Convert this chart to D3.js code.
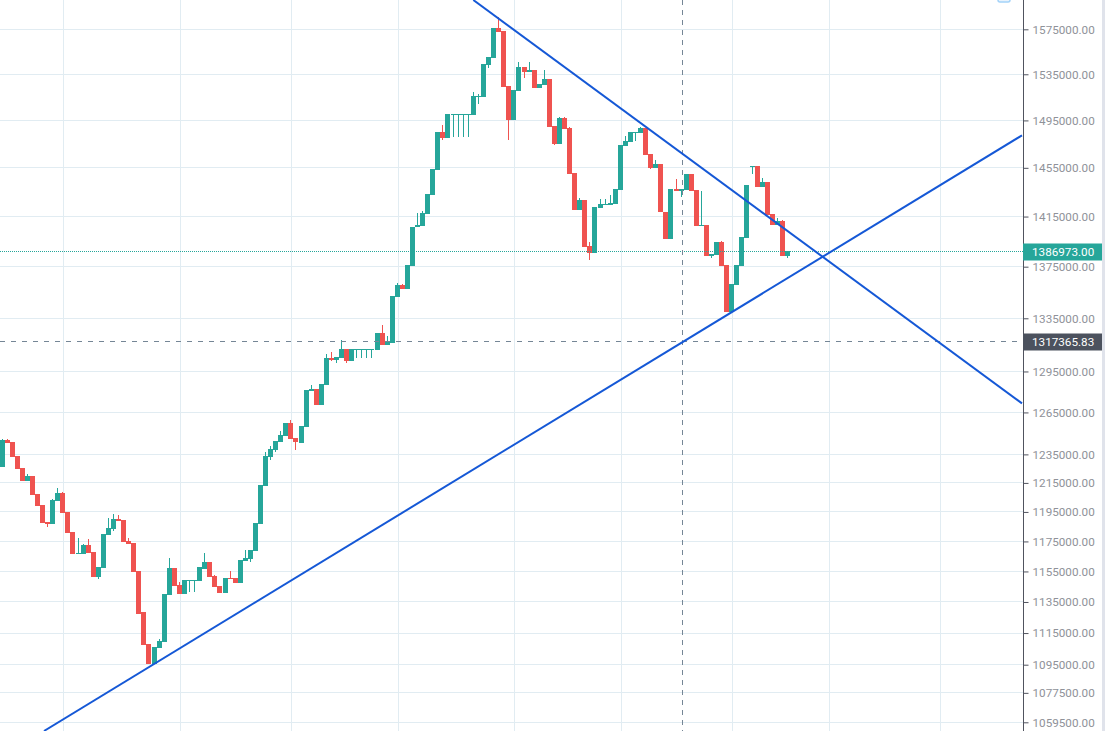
<!DOCTYPE html>
<html>
<head>
<meta charset="utf-8">
<script src="https://cdn.jsdelivr.net/npm/d3@7"></script>
<style>
html,body{margin:0;padding:0;background:#fff;overflow:hidden}
svg{display:block}
</style>
</head>
<body>
<div id="chart"></div>
<script>
const opens=[1226300,1245200,1243800,1233800,1225400,1216300,1219800,1207300,1199700,1188100,
1186800,1202700,1208000,1194900,1181400,1166600,1166600,1172600,1167900,1151400,
1157300,1179300,1183400,1190200,1189500,1175300,1174000,1155300,1128500,1108000,
1095400,1105500,1109300,1139500,1157300,1146100,1140200,1148700,1148700,1148700,
1156700,1161300,1152000,1145400,1140900,1150700,1150700,1147400,1161900,1163200,
1168600,1186800,1212800,1233100,1238100,1243800,1248100,1257400,1246600,1243000,
1254500,1280600,1282100,1270400,1285000,1305000,1303500,1305000,1311800,1302800,
1311000,1311000,1311000,1311000,1311000,1323800,1314800,1316300,1351300,1360700,
1357600,1375500,1406600,1407400,1417100,1432600,1453200,1485100,1480000,1499600,
1499600,1499600,1499600,1499600,1515200,1515200,1543200,1549400,1576200,1573500,
1524800,1495400,1520300,1541400,1537000,1538800,1522900,1525600,1530900,1490300,
1474900,1497100,1488500,1450700,1420300,1428500,1391400,1385800,1422000,1424400,
1424400,1425300,1436700,1473300,1476600,1484300,1484300,1488500,1466600,1454900,
1458200,1418700,1396900,1437500,1435900,1436700,1449800,1436700,1407400,1408200,
1383400,1384200,1394500,1376300,1339800,1360700,1375500,1397700,1455700,1456500,
1439100,1443200,1417100,1408200,1411400,1383400];
const closes=[1245200,1243300,1233300,1224900,1216300,1219800,1206600,1199000,1187500,1186800,
1203200,1208000,1194300,1180700,1166600,1167300,1172600,1167300,1151400,1158000,
1180000,1184100,1190200,1188800,1174600,1173300,1154700,1127200,1107400,1095400,
1106100,1110000,1140200,1157300,1145400,1140200,1149400,1149400,1149400,1158000,
1161300,1151400,1144800,1140900,1150700,1150000,1147400,1162600,1163900,1169300,
1187500,1213500,1233800,1238800,1244500,1248800,1257400,1245900,1243800,1255200,
1281300,1282100,1270400,1285700,1305000,1303500,1305800,1311800,1302800,1311800,
1311800,1311800,1311800,1311800,1323800,1314800,1317800,1352100,1360700,1357600,
1376300,1406600,1408200,1417900,1433400,1454000,1485100,1480000,1500500,1500500,
1500500,1500500,1500500,1516000,1516000,1544100,1550200,1576200,1572600,1523900,
1495400,1521200,1541400,1537000,1538800,1522900,1526400,1530900,1489400,1474900,
1497100,1487700,1449800,1420300,1428500,1390600,1385800,1422800,1425300,1425300,
1426100,1437500,1474100,1477500,1485100,1485100,1488500,1465700,1454900,1458200,
1418700,1396900,1437500,1435900,1437500,1449800,1435900,1407400,1408200,1383400,
1385000,1394500,1375500,1339800,1361500,1376300,1398500,1440800,1456500,1439100,
1443200,1416300,1408200,1411400,1383400,1387000];
const highs=[1245900,1245900,1243800,1233800,1225400,1221200,1219800,1207300,1199700,1188100,
1203900,1211500,1208700,1194900,1181400,1177300,1173300,1176600,1167900,1158000,
1180000,1190800,1193600,1192900,1189500,1177300,1174000,1155300,1128500,1108000,
1106100,1111200,1140200,1163900,1157300,1148100,1149400,1149400,1149400,1158000,
1167300,1161300,1152700,1145400,1150700,1155300,1150700,1162600,1169300,1169300,
1187500,1213500,1236700,1240900,1244500,1251600,1257400,1259500,1246600,1255200,
1281300,1285000,1282100,1285700,1308000,1309500,1305800,1318500,1311800,1311800,
1311800,1311800,1311800,1311800,1323800,1329900,1321500,1352100,1362200,1361500,
1376300,1406600,1417900,1419500,1433400,1454000,1485100,1491100,1500500,1500500,
1500500,1500500,1500500,1519500,1517800,1544100,1550200,1576200,1586100,1573500,
1524800,1521200,1545800,1541400,1545800,1538800,1526400,1538800,1530900,1490300,
1497900,1497900,1489400,1450700,1430100,1428500,1394500,1422800,1429300,1429300,
1432600,1437500,1474100,1481700,1485100,1485100,1489400,1488500,1466600,1461500,
1458200,1418700,1437500,1445700,1437500,1449800,1449800,1436700,1435900,1408200,
1385000,1394500,1395300,1376300,1361500,1376300,1398500,1440800,1456500,1456500,
1446600,1443200,1417100,1413800,1412200,1387000];
const lows=[1226300,1243300,1233300,1224900,1216300,1216300,1206600,1199000,1187500,1185000,
1186800,1202700,1194300,1180700,1166600,1166600,1166600,1167300,1151400,1150100,
1157300,1179300,1182000,1188800,1174600,1173300,1154700,1127200,1107400,1095400,
1095400,1105500,1109300,1139500,1145400,1140200,1140200,1141500,1141500,1148700,
1156700,1151400,1144800,1140900,1140900,1150000,1147400,1147400,1161900,1161300,
1168600,1186800,1212800,1231000,1236700,1243800,1248100,1245900,1238100,1243000,
1254500,1280600,1270400,1270400,1285000,1302800,1301300,1305000,1301300,1302800,
1305000,1305000,1305000,1305000,1311000,1314800,1314800,1316300,1351300,1357600,
1357600,1375500,1406600,1407400,1417100,1432600,1453200,1478300,1480000,1480900,
1480900,1480900,1480900,1499600,1509100,1515200,1540600,1549400,1572600,1523900,
1478300,1495400,1520300,1531800,1537000,1522900,1522900,1525600,1489400,1474100,
1474900,1487700,1449800,1420300,1420300,1390600,1380300,1385800,1422000,1424400,
1424400,1425300,1436700,1473300,1476600,1477500,1484300,1465700,1454000,1454900,
1418700,1396900,1396900,1435900,1431000,1436700,1435900,1407400,1407400,1383400,
1381800,1384200,1375500,1339800,1339800,1360700,1375500,1397700,1449800,1439100,
1439100,1416300,1408200,1408200,1383400,1381800];
const priceTicks=[1575000,1535000,1495000,1455000,1415000,1375000,1335000,1295000,1265000,1235000,1215000,1195000,1175000,1155000,1135000,1115000,1095000,1077500,1059500];
const gridBars=[12,35,57,78,101,122,144,163,185];
const risingLineBars=[8.28,201.27];
const risingLinePrices=[1054250,1482300];
const fallingLineBars=[93.0,201.27];
const fallingLinePrices=[1601620,1271600];
const lastPrice=1386973.00;
const crossPrice=1317365.83;
const crossBar=134.27;

const W=1105,H=731,axisX=1023,panelEnd=1102;
const UP='#26a69a',DOWN='#ef5350',GRID='#e1ecf2',AXIS='#50535e',TICK_TEXT='#8f9299',TREND='#1558d6',CROSS='#758696';

const svg=d3.select('#chart').append('svg').attr('width',W).attr('height',H);
const x=d3.scaleLinear().domain([0,155]).range([2.03,787.52]);
const y=d3.scaleLog().domain([1575000,1059500]).range([29.3,722.3]);
const snap=v=>Math.round(v)+0.5;
const fmt=d3.format('.2f');

svg.append('rect').attr('x',0).attr('y',0).attr('width',W).attr('height',H).attr('fill','#fff');
svg.append('rect').attr('x',panelEnd).attr('y',0).attr('width',W-panelEnd).attr('height',H).attr('fill','#e0e3eb');

const plot=svg.append('g');
plot.append('g').selectAll('line').data(gridBars).join('line')
  .attr('x1',d=>snap(x(d)+0.5)).attr('x2',d=>snap(x(d)+0.5)).attr('y1',0).attr('y2',H)
  .attr('stroke',GRID).attr('stroke-width',1);
plot.append('g').selectAll('line').data(priceTicks).join('line')
  .attr('x1',0).attr('x2',axisX).attr('y1',d=>snap(y(d)-0.5)).attr('y2',d=>snap(y(d)-0.5))
  .attr('stroke',GRID).attr('stroke-width',1);

const bars=d3.range(opens.length).map(i=>({i,o:opens[i],h:highs[i],l:lows[i],c:closes[i]}));
const color=d=>d.c>=d.o?UP:DOWN;
const candles=plot.append('g').selectAll('g').data(bars).join('g');
candles.append('line')
  .attr('x1',d=>Math.round(x(d.i)-2.5)+2.5).attr('x2',d=>Math.round(x(d.i)-2.5)+2.5)
  .attr('y1',d=>Math.round(y(d.h))).attr('y2',d=>Math.round(y(d.l)))
  .attr('stroke',color).attr('stroke-width',1);
candles.append('rect')
  .attr('x',d=>Math.round(x(d.i)-2.5)).attr('width',5)
  .attr('y',d=>Math.round(y(Math.max(d.o,d.c))))
  .attr('height',d=>Math.max(1,Math.round(y(Math.min(d.o,d.c)))-Math.round(y(Math.max(d.o,d.c)))))
  .attr('fill',color);

// last price and crosshair
plot.append('line').attr('x1',0).attr('x2',axisX).attr('y1',snap(y(lastPrice)-0.5)).attr('y2',snap(y(lastPrice)-0.5))
  .attr('stroke',UP).attr('stroke-width',1).attr('stroke-dasharray','1 1');
plot.append('line').attr('x1',0).attr('x2',axisX).attr('y1',snap(y(crossPrice)-0.5)).attr('y2',snap(y(crossPrice)-0.5))
  .attr('stroke',CROSS).attr('stroke-width',1).attr('stroke-dasharray','5 6');
plot.append('line').attr('x1',snap(x(crossBar)-0.5)).attr('x2',snap(x(crossBar)-0.5)).attr('y1',0).attr('y2',H)
  .attr('stroke',CROSS).attr('stroke-width',1).attr('stroke-dasharray','5 5');

// trend lines
const trend=d3.line().x(d=>x(d[0])).y(d=>y(d[1]));
plot.append('path').attr('d',trend(d3.zip(risingLineBars,risingLinePrices))).attr('fill','none').attr('stroke',TREND).attr('stroke-width',2);
plot.append('path').attr('d',trend(d3.zip(fallingLineBars,fallingLinePrices))).attr('fill','none').attr('stroke',TREND).attr('stroke-width',2);

// small tool icon cut by the top edge
svg.append('rect').attr('x',998).attr('y',-8).attr('width',12).attr('height',10).attr('rx',2)
  .attr('fill','#e8f3fd').attr('stroke','#a4d3f9').attr('stroke-width',1.5);

// price axis
const axis=svg.append('g').attr('transform',`translate(${axisX+0.5},0)`)
  .call(d3.axisRight(y).tickValues(priceTicks).tickSize(5).tickPadding(4).tickFormat(fmt));
axis.select('.domain').remove();
axis.append('line').attr('x1',0).attr('x2',0).attr('y1',0).attr('y2',H).attr('stroke',AXIS).attr('stroke-width',1);
axis.selectAll('.tick line').attr('stroke',AXIS);
axis.selectAll('.tick text').attr('fill',TICK_TEXT).attr('font-family','Roboto, sans-serif').attr('font-size',11.7);

// price labels
const labels=[{p:lastPrice,bg:UP},{p:crossPrice,bg:'#4c525e'}];
const lab=svg.append('g').selectAll('g').data(labels).join('g');
lab.append('rect').attr('x',axisX).attr('width',panelEnd-axisX)
  .attr('y',d=>Math.round(y(d.p))-8.5).attr('height',17).attr('fill',d=>d.bg);
lab.append('text').attr('x',axisX+9).attr('y',d=>y(d.p)).attr('dy','0.35em')
  .attr('fill','#fff').attr('font-family','Roboto, sans-serif').attr('font-size',11.7)
  .text(d=>fmt(d.p));
</script>
</body>
</html>
